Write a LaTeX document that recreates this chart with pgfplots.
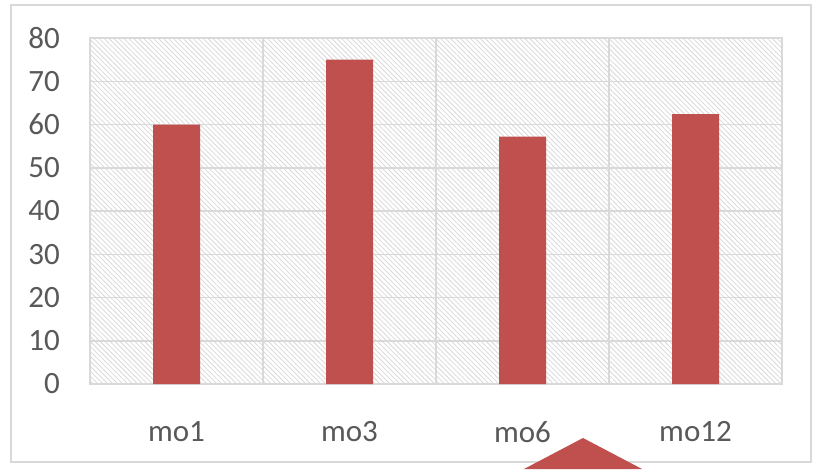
\documentclass[border=0pt]{standalone}
\usepackage{fontspec}
\setmainfont{Carlito}
\usepackage{pgfplots}
\pgfplotsset{compat=1.18}
\usetikzlibrary{patterns.meta}
\definecolor{barred}{HTML}{C0504D}
\definecolor{gridc}{HTML}{D9D9D9}
\definecolor{txt}{HTML}{595959}
\begin{document}
\begin{tikzpicture}[x=1pt,y=1pt]
\useasboundingbox (0,0) rectangle (817,469);
\fill[white] (0,0) rectangle (817,469);
\draw[gridc, line width=2pt] (11,7) rectangle (811,464);
\begin{axis}[
  at={(90pt,85pt)}, anchor=south west, scale only axis,
  width=692pt, height=346pt,
  xmin=0.5, xmax=4.5, ymin=0, ymax=80,
  ybar, bar width=47pt,
  xtick={1,2,3,4}, xticklabels={mo1,mo3,mo6,mo12},
  minor xtick={1.5,2.5,3.5},
  ytick={0,10,...,80},
  ymajorgrids, xminorgrids,
  major grid style={gridc, line width=1.5pt},
  minor grid style={gridc, line width=1.5pt},
  axis line style={gridc, line width=1.5pt},
  tick style={draw=none},
  /pgf/number format/assume math mode=true,
  ticklabel style={font=\fontsize{31}{34}\selectfont, text=txt, inner sep=0pt},
  yticklabel style={anchor=east, xshift=-30pt},
  xticklabel style={anchor=north, yshift=-33pt},
  axis background/.style={preaction={fill=white}, pattern={Lines[angle=-45,distance=3.5pt,line width=0.8pt]}, pattern color=black!15},
]
\addplot[fill=barred, draw=none] coordinates {(1,60) (2,75) (3,57.2) (4,62.4)};
\end{axis}
\fill[barred] (524,0) -- (583,31) -- (642,0) -- cycle;
\end{tikzpicture}
\end{document}
